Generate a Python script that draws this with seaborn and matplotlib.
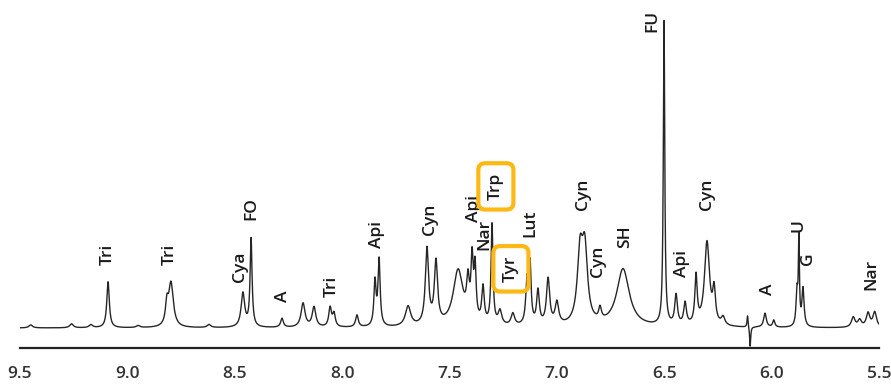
import numpy as np
import pandas as pd
import matplotlib
matplotlib.use("Agg")
import matplotlib.pyplot as plt
import seaborn as sns

# ---- data ----
peak_ppm = [9.45, 9.26, 9.17, 9.090, 8.95, 8.816, 8.797, 8.62, 8.462, 8.424, 8.280,
            8.182, 8.131, 8.056, 8.038, 7.931, 7.847, 7.828, 7.693, 7.605, 7.563,
            7.460, 7.414, 7.395, 7.381, 7.344, 7.302, 7.265, 7.205, 7.139, 7.125,
            7.088, 7.041, 7.000, 6.892, 6.870, 6.799, 6.692, 6.501, 6.445, 6.403,
            6.352, 6.301, 6.268, 6.226, 6.112, 6.100, 6.031, 5.990, 5.882, 5.873,
            5.854, 5.620, 5.590, 5.551, 5.520]
peak_height = [3, 4, 3, 46, 2, 20, 44, 3, 34, 88, 9,
               24, 20, 19, 13, 12, 44, 66, 20, 76, 62,
               56, 36, 58, 52, 36, 100, 14, 12, 42, 58,
               34, 46, 22, 68, 70, 12, 58, 304, 30, 22,
               48, 84, 32, 8, 12, -20, 14, 7, 34, 84,
               38, 10, 7, 14, 15]
peak_width = [0.02, 0.02, 0.02, 0.014, 0.02, 0.015, 0.026, 0.02, 0.02, 0.011, 0.015,
              0.022, 0.02, 0.015, 0.015, 0.015, 0.012, 0.012, 0.03, 0.018, 0.018,
              0.055, 0.015, 0.012, 0.012, 0.014, 0.011, 0.02, 0.02, 0.014, 0.012,
              0.015, 0.018, 0.02, 0.03, 0.03, 0.015, 0.07, 0.008, 0.015, 0.015,
              0.013, 0.028, 0.015, 0.02, 0.006, 0.006, 0.015, 0.012, 0.01, 0.006,
              0.012, 0.02, 0.02, 0.02, 0.02]

label_text = ["Tri", "Tri", "Cya", "FO", "A", "Tri", "Api", "Cyn", "Api", "Nar", "Trp",
              "Tyr", "Lut", "Cyn", "Cyn", "SH", "FU", "Api", "Cyn", "A", "U", "G", "Nar"]
label_ppm = [9.090, 8.802, 8.476, 8.424, 8.275, 8.047, 7.838, 7.591, 7.386, 7.339, 7.284,
             7.214, 7.125, 6.878, 6.808, 6.683, 6.555, 6.417, 6.301, 6.017, 5.877, 5.831, 5.537]
label_y = [63, 63, 46, 108, 26, 31, 80, 93, 106, 78, 128,
           46, 91, 118, 51, 80, 296, 51, 118, 33, 96, 63, 38]
boxed = ["Trp", "Tyr"]

tick_values = [9.5, 9.0, 8.5, 8.0, 7.5, 7.0, 6.5, 6.0, 5.5]
tick_labels = ["9.5", "9.0", "8.5", "8.0", "7.5", "7.0", "6.5", "6.0", "5.5"]

# ---- spectrum built as a sum of Lorentzian lines ----
ppm = np.linspace(9.5, 5.5, 8001)
intensity = np.zeros_like(ppm)
for p0, h, w in zip(peak_ppm, peak_height, peak_width):
    intensity += h / (1.0 + ((ppm - p0) / (w / 2.0)) ** 2)
df = pd.DataFrame({"ppm": ppm, "intensity": intensity})

sns.set_style("white")
plt.rcParams["font.family"] = ["Open Sans", "DejaVu Sans"]

fig = plt.figure(figsize=(8.91, 3.89), dpi=100)
ax = fig.add_axes([20 / 891, 1 - 348 / 389, 859 / 891, 348 / 389])
sns.lineplot(data=df, x="ppm", y="intensity", sort=False, color="#262626",
             linewidth=1.0, ax=ax)
ax.set_xlim(9.5, 5.5)
ax.set_ylim(-20, 328)
ax.set_xlabel("")
ax.set_ylabel("")
ax.set_yticks([])
for s in ["left", "right", "top"]:
    ax.spines[s].set_visible(False)
ax.spines["bottom"].set_linewidth(1.6)
ax.spines["bottom"].set_color("#222222")
ax.set_xticks(tick_values)
ax.set_xticklabels(tick_labels)
ax.set_xticks(np.arange(5.5, 9.51, 0.1), minor=True)
ax.tick_params(axis="x", which="both", direction="out", length=5, width=1.3,
               color="#222222", labelsize=12.5, labelcolor="#333333", pad=8)
for lab in ax.get_xticklabels():
    lab.set_fontweight("semibold")

for t, x, y in zip(label_text, label_ppm, label_y):
    kw = {}
    if t in boxed:
        kw["bbox"] = dict(boxstyle="round,pad=0.55,rounding_size=0.4", fc="none",
                          ec="#FDB813", lw=3.0)
    ax.text(x, y, t, rotation=90, ha="center", va="bottom", fontsize=12.5,
            fontweight="semibold", color="#1a1a1a", **kw)

fig.savefig("out.png", dpi=100)
